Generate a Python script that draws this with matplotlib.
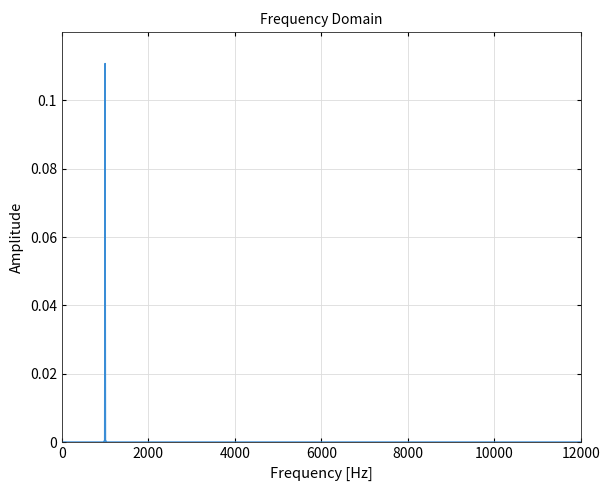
import matplotlib
matplotlib.use('Agg')
import matplotlib.pyplot as plt

plt.rcParams['font.family'] = ['Noto Sans CJK JP', 'DejaVu Sans']

# spectrum samples (flat zero except the 1 kHz tone)
freq = [0, 960, 980, 990, 1000, 1010, 1020, 1040, 12000]
amp = [0.0, 0.0, 0.0003, 0.0, 0.1108, 0.0, 0.0003, 0.0, 0.0]

fig = plt.figure(figsize=(6.12, 4.86), dpi=100)
ax = fig.add_axes([0.101, 0.0905, 0.848, 0.8435])
ax.plot(freq, amp, color='#3a8dd6', linewidth=1.0)
ax.set_xlim(0, 12000)
ax.set_ylim(0, 0.12)
ax.set_xticks([0, 2000, 4000, 6000, 8000, 10000, 12000])
ax.set_yticks([0, 0.02, 0.04, 0.06, 0.08, 0.1])
ax.set_yticklabels(['0', '0.02', '0.04', '0.06', '0.08', '0.1'])
ax.grid(True, color='#dcdcdc', linewidth=0.6)
ax.set_axisbelow(True)
ax.tick_params(direction='in', labelsize=10, top=True, right=True, length=3)
for s in ax.spines.values():
    s.set_color('#262626')
    s.set_linewidth(0.6)
ax.set_title('Frequency Domain', fontsize=10)
ax.set_xlabel('Frequency [Hz]', fontsize=10.5)
ax.set_ylabel('Amplitude', fontsize=10.5)

fig.savefig('out.png', dpi=100)
